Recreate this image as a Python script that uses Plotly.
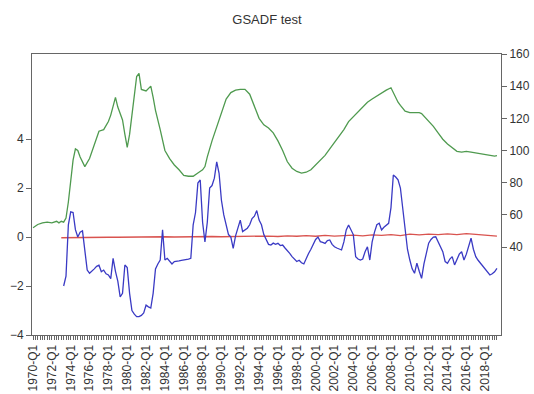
import plotly.graph_objects as go

# Quarterly dates expressed as decimal years (1970.0 = 1970-Q1)
price_t = [1970.0, 1970.5, 1971.0, 1971.5, 1972.0, 1972.5, 1972.75, 1973.0, 1973.25, 1973.5,
           1973.75, 1974.0, 1974.25, 1974.5, 1974.75, 1975.0, 1975.5, 1976.0, 1976.5, 1977.0,
           1977.5, 1978.0, 1978.25, 1978.75, 1979.0, 1979.25, 1979.5, 1979.75, 1980.0, 1980.25,
           1980.5, 1980.75, 1981.0, 1981.25, 1981.5, 1982.0, 1982.5, 1982.75, 1983.0, 1983.5,
           1984.0, 1984.5, 1985.0, 1985.5, 1986.0, 1986.5, 1987.0, 1987.5, 1988.0, 1988.25,
           1988.5, 1989.0, 1989.5, 1990.0, 1990.5, 1991.0, 1991.5, 1992.0, 1992.5, 1993.0,
           1993.5, 1994.0, 1994.5, 1995.0, 1995.5, 1996.0, 1996.5, 1997.0, 1997.5, 1998.0,
           1998.5, 1999.0, 1999.5, 2000.0, 2000.5, 2001.0, 2001.5, 2002.0, 2002.5, 2003.0,
           2003.5, 2004.0, 2004.5, 2005.0, 2005.5, 2006.0, 2006.5, 2007.0, 2007.5, 2008.0,
           2008.25, 2008.5, 2008.75, 2009.0, 2009.5, 2010.0, 2010.5, 2011.0, 2011.25, 2011.5,
           2012.0, 2012.5, 2013.0, 2013.5, 2014.0, 2014.5, 2015.0, 2015.5, 2016.0, 2016.5,
           2017.0, 2017.5, 2018.0, 2018.5, 2019.0, 2019.25]
price = [52, 54, 55, 55.5, 55, 56, 55, 56, 55.5, 58,
         68, 82, 94, 101, 100, 96, 90, 95, 103, 112,
         113, 118, 122, 133, 127, 123, 119, 110, 102, 110,
         123, 137, 146, 148, 138, 137, 140, 133, 125, 113,
         100, 95, 91, 88, 84.5, 84, 84, 86, 88, 90,
         96, 106, 115, 124, 132, 136, 137.5, 138, 138, 135,
         128, 120, 116, 114, 111, 106, 100, 93, 89, 87,
         86, 86.5, 88, 91, 94, 97, 101, 105, 109, 113,
         118, 121, 124, 127, 130, 132, 134, 136, 137.5, 139,
         136, 132.5, 130, 128, 124.5, 123.5, 123.5, 123.5, 123, 121.5,
         118.5, 115, 111, 107, 104, 101.5, 99.5, 99, 99.5, 99,
         98.5, 98, 97.5, 97, 96.5, 96.8]

# Backward sup ADF statistic sequence
bsadf_t = [1973.25, 1973.5, 1973.75, 1974.0, 1974.25, 1974.5, 1974.75, 1975.0, 1975.25, 1975.5,
           1975.75, 1976.0, 1976.25, 1976.5, 1976.75, 1977.0, 1977.25, 1977.5, 1977.75, 1978.0,
           1978.25, 1978.5, 1978.75, 1979.0, 1979.25, 1979.5, 1979.75, 1980.0, 1980.25, 1980.5,
           1980.75, 1981.0, 1981.25, 1981.5, 1981.75, 1982.0, 1982.25, 1982.5, 1982.75, 1983.0,
           1983.25, 1983.5, 1983.75, 1984.0, 1984.25, 1984.5, 1984.75, 1985.0, 1985.25, 1985.5,
           1985.75, 1986.0, 1986.5, 1986.75, 1987.0, 1987.25, 1987.5, 1987.75, 1988.0, 1988.25,
           1988.5, 1988.75, 1989.0, 1989.25, 1989.5, 1989.75, 1990.0, 1990.25, 1990.5, 1990.75,
           1991.0, 1991.25, 1991.5, 1991.75, 1992.0, 1992.25, 1992.5, 1992.75, 1993.0, 1993.25,
           1993.5, 1993.75, 1994.0, 1994.25, 1994.5, 1994.75, 1995.0, 1995.25, 1995.5, 1995.75,
           1996.0, 1996.25, 1996.5, 1996.75, 1997.0, 1997.25, 1997.5, 1997.75, 1998.0, 1998.25,
           1998.5, 1998.75, 1999.0, 1999.25, 1999.5, 1999.75, 2000.0, 2000.25, 2000.5, 2000.75,
           2001.0, 2001.25, 2001.5, 2001.75, 2002.0, 2002.25, 2002.5, 2002.75, 2003.0, 2003.25,
           2003.5, 2003.75, 2004.0, 2004.25, 2004.5, 2004.75, 2005.0, 2005.25, 2005.5, 2005.75,
           2006.0, 2006.25, 2006.5, 2006.75, 2007.0, 2007.25, 2007.5, 2007.75, 2008.0, 2008.25,
           2008.5, 2008.75, 2009.0, 2009.25, 2009.5, 2009.75, 2010.0, 2010.25, 2010.5, 2010.75,
           2011.0, 2011.25, 2011.5, 2011.75, 2012.0, 2012.25, 2012.5, 2012.75, 2013.0, 2013.25,
           2013.5, 2013.75, 2014.0, 2014.25, 2014.5, 2014.75, 2015.0, 2015.25, 2015.5, 2015.75,
           2016.0, 2016.25, 2016.5, 2016.75, 2017.0, 2017.25, 2017.5, 2017.75, 2018.0, 2018.25,
           2018.5, 2018.75, 2019.0, 2019.25]
bsadf = [-2.0, -1.6, 0.5, 1.03, 1.0, 0.3, 0.0, 0.2, 0.25, -0.6,
         -1.35, -1.48, -1.4, -1.3, -1.2, -1.15, -1.42, -1.35, -1.5, -1.55,
         -1.7, -0.87, -1.4, -1.8, -2.44, -2.3, -1.14, -1.25, -2.3, -3.0,
         -3.15, -3.25, -3.25, -3.2, -3.1, -2.78, -2.85, -2.9, -2.3, -1.3,
         -1.1, -0.94, 0.29, -0.94, -0.87, -1.0, -1.1, -1.0, -1.0, -0.97,
         -0.95, -0.94, -0.9, -0.87, 0.5, 1.0, 2.2, 2.33, 0.6, -0.2,
         0.6, 2.0, 2.1, 2.4, 3.07, 2.6, 1.5, 0.9, 0.45, 0.1,
         0.0, -0.46, 0.05, 0.4, 0.69, 0.22, 0.3, 0.36, 0.5, 0.75,
         0.85, 1.08, 0.69, 0.5, 0.1, -0.1, -0.3, -0.33, -0.25, -0.3,
         -0.26, -0.35, -0.33, -0.45, -0.55, -0.67, -0.8, -0.9, -1.0, -0.95,
         -1.05, -1.1, -0.85, -0.67, -0.5, -0.33, -0.1, 0.0, -0.19, -0.22,
         -0.26, -0.15, -0.12, -0.3, -0.4, -0.45, -0.5, -0.53, -0.2, 0.29,
         0.49, 0.3, 0.1, -0.8, -0.9, -0.94, -0.9, -0.6, -0.4, -0.94,
         -0.2, 0.2, 0.5, 0.56, 0.29, 0.4, 0.49, 0.56, 1.2, 2.53,
         2.45, 2.33, 2.0, 1.2, 0.2, -0.5, -0.94, -1.3, -1.48, -1.07,
         -1.4, -1.69, -1.1, -0.6, -0.25, -0.1, 0.0, 0.01, -0.2, -0.45,
         -0.6, -1.0, -1.07, -0.9, -0.8, -1.14, -0.95, -0.7, -0.6, -0.94,
         -0.7, -0.4, -0.05, -0.5, -0.8, -0.95, -1.07, -1.2, -1.28, -1.4,
         -1.55, -1.5, -1.42, -1.28]

# 95% critical value sequence
cv_t = [1973.0, 1974.0, 1975.0, 1976.0, 1977.0, 1978.0, 1979.0, 1980.0, 1981.0, 1982.0,
        1983.0, 1984.0, 1985.0, 1986.0, 1987.0, 1988.0, 1989.0, 1990.0, 1991.0, 1992.0,
        1993.0, 1994.0, 1995.0, 1996.0, 1997.0, 1998.0, 1999.0, 2000.0, 2001.0, 2002.0,
        2003.0, 2004.0, 2005.0, 2006.0, 2007.0, 2008.0, 2009.0, 2010.0, 2011.0, 2012.0,
        2013.0, 2014.0, 2015.0, 2016.0, 2017.0, 2018.0, 2019.0, 2019.25]
cv = [-0.03, -0.02, -0.02, -0.01, -0.02, -0.01, -0.01, 0.0, -0.01, 0.0,
      0.0, 0.01, 0.0, 0.01, 0.01, 0.0, 0.02, 0.01, 0.02, 0.02,
      0.03, 0.02, 0.04, 0.02, 0.05, 0.03, 0.06, 0.03, 0.07, 0.04,
      0.06, 0.08, 0.05, 0.09, 0.07, 0.1, 0.06, 0.12, 0.09, 0.12,
      0.1, 0.13, 0.1, 0.14, 0.11, 0.09, 0.05, 0.04]

# Quarterly ticks, labelled every second year
first_year, last_year = 1970, 2019
quarter_ticks = [first_year + q / 4 for q in range((last_year - first_year) * 4 + 2)]
quarter_text = [f"{int(t)}-Q1" if (abs(t - round(t)) < 1e-9 and int(round(t)) % 2 == 0) else ""
                for t in quarter_ticks]

left_ticks = [-4, -2, 0, 2, 4]
right_ticks = [40, 60, 80, 100, 120, 140, 160]

font_family = "Liberation Sans, Arial, sans-serif"
axis_color = "#666666"

fig = go.Figure()
fig.add_trace(go.Scatter(x=price_t, y=price, mode="lines", yaxis="y2",
                         line=dict(color="#4f9a4f", width=1.3), showlegend=False))
fig.add_trace(go.Scatter(x=cv_t, y=cv, mode="lines",
                         line=dict(color="#d9534f", width=1.3), showlegend=False))
fig.add_trace(go.Scatter(x=bsadf_t, y=bsadf, mode="lines",
                         line=dict(color="#3a3ac4", width=1.3), showlegend=False))

fig.update_layout(
    width=534, height=394,
    margin=dict(l=32, r=33, t=54, b=59),
    paper_bgcolor="white", plot_bgcolor="white",
    font=dict(family=font_family, size=12, color="#333333"),
    title=dict(text="GSADF test", x=0.5, xanchor="center",
               y=1 - 19 / 394, yanchor="middle", yref="container",
               font=dict(size=13, color="#333333")),
    xaxis=dict(range=[1969.89, 2019.68], tickmode="array",
               tickvals=quarter_ticks, ticktext=quarter_text, tickangle=-90,
               ticks="outside", ticklen=4, tickwidth=1, tickcolor=axis_color,
               showline=True, linecolor=axis_color, linewidth=1, mirror=True,
               showgrid=False, zeroline=False, automargin=False,
               tickfont=dict(size=12)),
    yaxis=dict(range=[-4, 7.47], tickmode="array", tickvals=left_ticks,
               ticks="outside", ticklen=5, tickcolor=axis_color,
               showline=True, linecolor=axis_color, linewidth=1,
               showgrid=False, zeroline=False, automargin=False,
               tickfont=dict(size=12)),
    yaxis2=dict(range=[-14.7, 160], tickmode="array", tickvals=right_ticks,
                overlaying="y", side="right",
                ticks="outside", ticklen=5, tickcolor=axis_color,
                showline=True, linecolor=axis_color, linewidth=1,
                showgrid=False, zeroline=False, automargin=False,
                tickfont=dict(size=12)),
)

fig.write_html("out.html")
